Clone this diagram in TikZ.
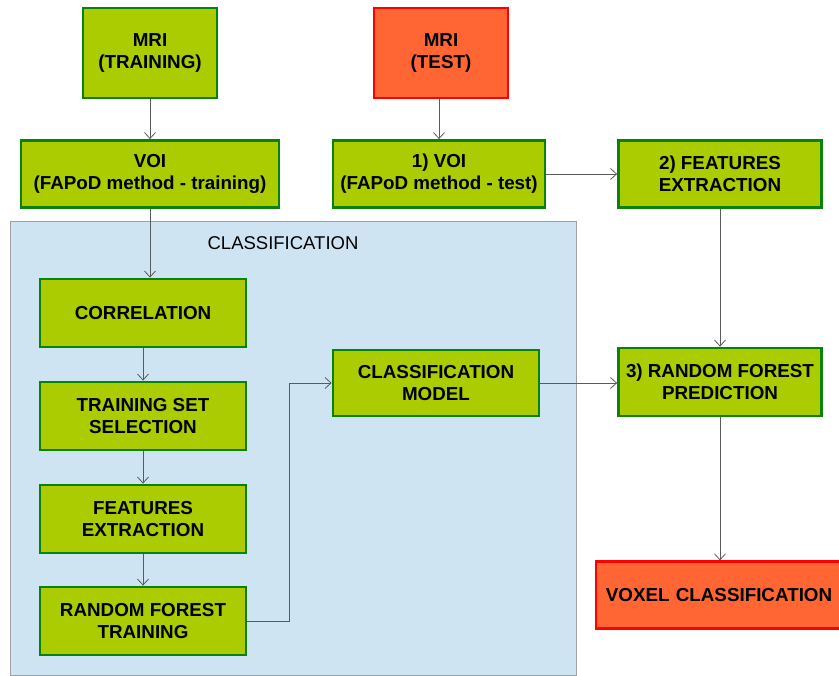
\documentclass[tikz,border=0pt]{standalone}
\usepackage{fontspec}
\setmainfont{Liberation Sans}
\usetikzlibrary{arrows.meta}
\definecolor{boxgreen}{RGB}{170,204,0}
\definecolor{edgegreen}{RGB}{10,130,10}
\definecolor{boxred}{RGB}{255,102,51}
\definecolor{edgered}{RGB}{255,0,0}
\definecolor{panelblue}{RGB}{207,228,243}
\definecolor{panelgray}{RGB}{160,160,160}
\definecolor{linkgray}{RGB}{90,90,90}
\tikzset{
  stepbox/.style={draw=edgegreen,fill=boxgreen,line width=2.8pt,align=center,inner sep=0pt,
    font=\fontsize{18.8}{22}\selectfont\bfseries},
  redbox/.style={stepbox,draw=edgered,fill=boxred,line width=2.2pt},
  link/.style={draw=linkgray,line width=0.9pt,-{Straight Barb[length=6pt,width=11pt,line width=0.8pt]}}
}
\begin{document}
\begin{tikzpicture}[x=1pt,y=-1pt]
        \useasboundingbox (0,0) rectangle (839,676);
        %% classification panel
        \draw[fill=panelblue,draw=panelgray,line width=1pt] (10,222) rectangle (576,675);
        \node[font=\fontsize{18.5}{20}\selectfont] (clslabel) at (283,243) {CLASSIFICATION};
        %% training branch
        \node[stepbox,minimum width=134pt,minimum height=90pt] (mritrain) at (150,53) {MRI\\(TRAINING)};
        \node[stepbox,minimum width=258pt,minimum height=67pt] (voitrain) at (150,174) {VOI\\(FAPoD method - training)};
        \node[stepbox,minimum width=206pt,minimum height=68pt] (corr) at (143,313) {CORRELATION};
        \node[stepbox,minimum width=206pt,minimum height=68pt] (tset) at (143,416) {TRAINING SET\\SELECTION};
        \node[stepbox,minimum width=206pt,minimum height=68pt] (feat) at (143,519) {FEATURES\\EXTRACTION};
        \node[stepbox,minimum width=206pt,minimum height=68pt] (rftrain) at (143,621) {RANDOM FOREST\\TRAINING};
        \node[stepbox,minimum width=206pt,minimum height=66pt] (model) at (436,383) {CLASSIFICATION\\MODEL};
        %% test branch
        \node[redbox,minimum width=134pt,minimum height=90pt] (mritest) at (441,53) {MRI\\(TEST)};
        \node[stepbox,minimum width=212pt,minimum height=67pt] (voitest) at (439,174) {1) VOI\\(FAPoD method - test)};
        \node[stepbox,minimum width=203pt,minimum height=67pt] (featext) at (720,174) {2) FEATURES\\EXTRACTION};
        \node[stepbox,minimum width=203pt,minimum height=68pt] (rfpred) at (720,382) {3) RANDOM FOREST\\PREDICTION};
        \node[redbox,minimum width=246pt,minimum height=67pt,text width=240pt] (voxel) at (719,595) {VOXEL CLASSIFICATION};
        %% connectors
        \coordinate (bend) at (289,621);
        \draw[link] (mritrain) -- (voitrain);
        \draw[link] (voitrain.south) -- (voitrain.south |- corr.north);
        \draw[link] (corr) -- (tset);
        \draw[link] (tset) -- (feat);
        \draw[link] (feat) -- (rftrain);
        \draw[link] (rftrain.east) -- (bend) |- (model.west);
        \draw[link] (model.east) -- (model.east -| rfpred.west);
        \draw[link] (mritest.south -| voitest.north) -- (voitest.north);
        \draw[link] (voitest.east) -- (voitest.east -| featext.west);
        \draw[link] (featext) -- (rfpred);
        \draw[link] (rfpred.south) -- (rfpred.south |- voxel.north);
    \end{tikzpicture}
\end{document}
